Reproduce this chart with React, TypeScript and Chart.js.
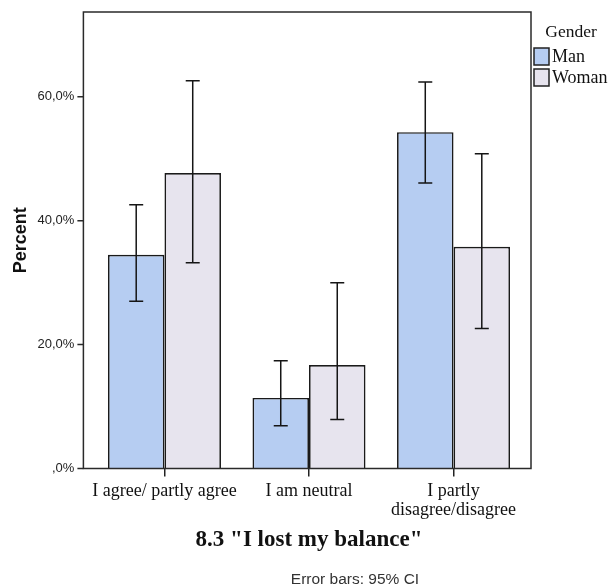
import React, { useEffect, useRef } from "react";
import { Chart, registerables } from "chart.js";

Chart.register(...registerables);

const categories: (string | string[])[] = [
  "I agree/ partly agree",
  "I am neutral",
  ["I partly", "disagree/disagree"],
];
const seriesNames = ["Man", "Woman"];
const manValues = [34.5, 11.4, 54.3];
const womanValues = [47.7, 16.7, 35.8];
const manLower = [27.0, 6.9, 46.1];
const manUpper = [42.6, 17.4, 62.4];
const womanLower = [33.2, 7.9, 22.6];
const womanUpper = [62.6, 30.0, 50.8];
const yTicks = [0, 20, 40, 60];
const yMax = 73.7;
const legendTitle = "Gender";
const chartTitle = '8.3 "I lost my balance"';
const footNote = "Error bars: 95% CI";

const lowers = [manLower, womanLower];
const uppers = [manUpper, womanUpper];

// frame of the plot box (SPSS draws it a little wider than the bar area)
const FRAME_LEFT = 83.4;
const FRAME_RIGHT = 531;

const fmtTick = (v: number) =>
  v === 0 ? ",0%" : v.toFixed(1).replace(".", ",") + "%";

const framePlugin = {
  id: "frame",
  afterDatasetsDraw(chart: any) {
    const { ctx, chartArea: a } = chart;
    const yScale = chart.scales.y;
    ctx.save();
    ctx.strokeStyle = "#2a2a2a";
    ctx.lineWidth = 1.5;
    ctx.strokeRect(FRAME_LEFT, a.top, FRAME_RIGHT - FRAME_LEFT, a.bottom - a.top);
    ctx.beginPath();
    yTicks.forEach((v) => {
      const y = yScale.getPixelForValue(v);
      ctx.moveTo(FRAME_LEFT - 6, y);
      ctx.lineTo(FRAME_LEFT, y);
    });
    ctx.stroke();
    ctx.restore();
  },
};

const errorBarPlugin = {
  id: "errorBars",
  afterDatasetsDraw(chart: any) {
    const { ctx } = chart;
    const yScale = chart.scales.y;
    ctx.save();
    ctx.strokeStyle = "#151515";
    ctx.lineWidth = 1.5;
    chart.data.datasets.forEach((_: any, i: number) => {
      const meta = chart.getDatasetMeta(i);
      meta.data.forEach((bar: any, j: number) => {
        const x = bar.x;
        const yl = yScale.getPixelForValue(lowers[i][j]);
        const yu = yScale.getPixelForValue(uppers[i][j]);
        const cap = 7;
        ctx.beginPath();
        ctx.moveTo(x, yl);
        ctx.lineTo(x, yu);
        ctx.moveTo(x - cap, yu);
        ctx.lineTo(x + cap, yu);
        ctx.moveTo(x - cap, yl);
        ctx.lineTo(x + cap, yl);
        ctx.stroke();
      });
    });
    ctx.restore();
  },
};

const legendPlugin = {
  id: "customLegend",
  afterDraw(chart: any) {
    const { ctx } = chart;
    ctx.save();
    ctx.fillStyle = "#111";
    ctx.font = '17.5px "Liberation Serif"';
    ctx.textAlign = "center";
    ctx.textBaseline = "alphabetic";
    ctx.fillText(legendTitle, FRAME_RIGHT + 40, 37);
    ctx.textAlign = "left";
    ctx.font = '18px "Liberation Serif"';
    chart.data.datasets.forEach((ds: any, i: number) => {
      const top = 48 + i * 21;
      const bx = FRAME_RIGHT + 3;
      ctx.fillStyle = ds.backgroundColor;
      ctx.fillRect(bx, top, 15, 17);
      ctx.strokeStyle = "#222";
      ctx.lineWidth = 1.5;
      ctx.strokeRect(bx, top, 15, 17);
      ctx.fillStyle = "#111";
      ctx.fillText(ds.label, bx + 18, top + 14);
    });
    ctx.fillStyle = "#333";
    ctx.font = '15.5px "Liberation Sans"';
    ctx.textAlign = "center";
    ctx.fillText(footNote, 355, 584);
    ctx.restore();
  },
};

export default function App() {
  const ref = useRef<HTMLCanvasElement | null>(null);
  useEffect(() => {
    if (!ref.current) return;
    const chart = new Chart(ref.current, {
      type: "bar",
      data: {
        labels: categories as any,
        datasets: [
          {
            label: seriesNames[0],
            data: manValues,
            backgroundColor: "#b6cdf2",
            borderColor: "#1a1a1a",
            borderWidth: 1.7,
            categoryPercentage: 0.782,
            barPercentage: 1.0,
          },
          {
            label: seriesNames[1],
            data: womanValues,
            backgroundColor: "#e7e4ee",
            borderColor: "#1a1a1a",
            borderWidth: 1.7,
            categoryPercentage: 0.782,
            barPercentage: 1.0,
          },
        ],
      },
      options: {
        responsive: false,
        animation: false,
        layout: { padding: { left: 0, top: 12, right: 88.2, bottom: 0 } },
        plugins: {
          legend: { display: false },
          tooltip: { enabled: false },
        },
        scales: {
          x: {
            offset: true,
            grid: {
              display: true,
              offset: false,
              drawOnChartArea: false,
              drawTicks: true,
              tickLength: 8,
              color: "#222",
              lineWidth: 1.5,
            },
            border: { display: false },
            ticks: {
              autoSkip: false,
              maxRotation: 0,
              padding: 5,
              color: "#111",
              font: { family: "Liberation Serif", size: 18, lineHeight: 1.05 },
            },
            title: {
              display: true,
              text: chartTitle,
              color: "#111",
              font: { family: "Liberation Serif", size: 23, weight: "bold" },
              padding: { top: 0, bottom: 32 },
            },
            afterFit: (scale: any) => {
              scale.height = 117.5;
            },
          },
          y: {
            min: 0,
            max: yMax,
            afterBuildTicks: (scale: any) => {
              scale.ticks = yTicks.map((v) => ({ value: v }));
            },
            grid: {
              display: true,
              drawOnChartArea: false,
              drawTicks: true,
              tickLength: 15.8,
              color: "rgba(0,0,0,0)",
            },
            border: { display: false },
            ticks: {
              padding: 2,
              color: "#222",
              font: { family: "Liberation Sans", size: 13 },
              callback: (v: any) => fmtTick(Number(v)),
            },
            title: {
              display: true,
              text: "Percent",
              color: "#111",
              font: { family: "Liberation Sans", size: 18, weight: "bold" },
              padding: { top: 10, bottom: 0 },
            },
            afterFit: (scale: any) => {
              scale.width = 92.2;
            },
          },
        },
      },
      plugins: [framePlugin, errorBarPlugin, legendPlugin],
    });
    return () => chart.destroy();
  }, []);
  return (
    <div style={{ position: "absolute", left: 0, top: 0, width: 614, height: 586, background: "#fff" }}>
      <canvas ref={ref} width={614} height={586} style={{ display: "block" }} />
    </div>
  );
}
